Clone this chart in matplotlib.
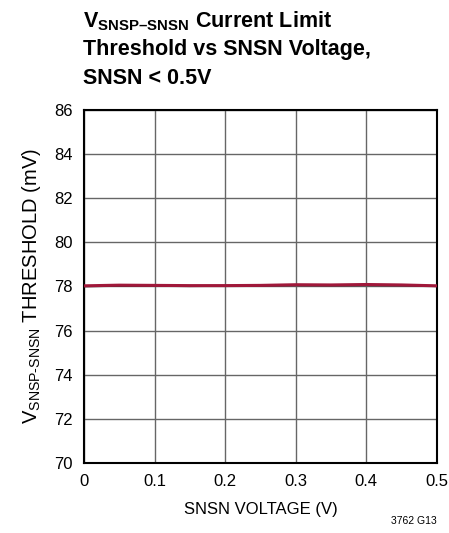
import matplotlib
matplotlib.use("Agg")
import matplotlib.pyplot as plt

plt.rcParams['font.family'] = ['Liberation Sans', 'DejaVu Sans']
plt.rcParams['mathtext.fontset'] = 'custom'
plt.rcParams['mathtext.rm'] = 'Liberation Sans'
plt.rcParams['mathtext.bf'] = 'Liberation Sans:bold'

# data
snsn_v = [0.0, 0.05, 0.1, 0.15, 0.2, 0.25, 0.3, 0.35, 0.4, 0.45, 0.5]
thr_a = [78.03, 78.06, 78.05, 78.04, 78.04, 78.05, 78.08, 78.07, 78.09, 78.07, 78.03]
thr_b = [78.01, 78.03, 78.03, 78.02, 78.03, 78.04, 78.06, 78.05, 78.06, 78.05, 78.02]
xticks = [0, 0.1, 0.2, 0.3, 0.4, 0.5]
xticklabels = ["0", "0.1", "0.2", "0.3", "0.4", "0.5"]
yticks = [70, 72, 74, 76, 78, 80, 82, 84, 86]

fig = plt.figure(figsize=(4.49, 5.33), dpi=100)
ax = fig.add_axes([0.187, 0.131, 0.786, 0.663])
ax.plot(snsn_v, thr_b, color="#333333", lw=1.5, zorder=3)
ax.plot(snsn_v, thr_a, color="#a0183a", lw=2.2, zorder=4)
ax.set_xlim(0, 0.5)
ax.set_ylim(70, 86)
ax.set_xticks(xticks)
ax.set_xticklabels(xticklabels)
ax.set_yticks(yticks)
ax.grid(True, color="#666666", lw=1.0)
ax.tick_params(axis="x", length=0, labelsize=12, pad=8)
ax.tick_params(axis="y", length=0, labelsize=12, pad=8)
for s in ax.spines.values():
    s.set_linewidth(1.5)
    s.set_color("black")
ax.set_xlabel("SNSN VOLTAGE (V)", fontsize=12, labelpad=9)
ax.set_ylabel(r"V$_{\mathregular{SNSP\text{-}SNSN}}$ THRESHOLD (mV)", fontsize=14.5, labelpad=8)

fig.text(0.185, 0.949, r"V$_{\mathbf{SNSP–SNSN}}$ Current Limit", fontsize=15.5, fontweight="bold", va="baseline")
fig.text(0.185, 0.897, "Threshold vs SNSN Voltage,", fontsize=15.5, fontweight="bold", va="baseline")
fig.text(0.185, 0.843, "SNSN < 0.5V", fontsize=15.5, fontweight="bold", va="baseline")
fig.text(0.972, 0.017, "3762 G13", fontsize=7.5, ha="right")
fig.savefig("out.png", dpi=100)
